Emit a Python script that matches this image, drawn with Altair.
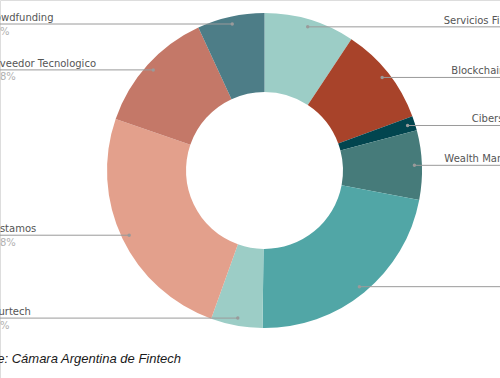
import altair as alt
import numpy as np
import pandas as pd

# ---- data ----
categories = ["Servicios Financieros", "Blockchain y Cripto", "Ciberseguridad",
              "Wealth Management", "Pagos", "Insurtech", "Préstamos",
              "Proveedor Tecnologico", "Crowdfunding"]
shares = [9.3, 10.1, 1.5, 7.1, 22.2, 5.3, 24.8, 12.8, 6.9]
colors = ["#9ccdc6", "#a8432a", "#02454f", "#467b7a", "#51a6a6",
          "#9ccdc6", "#e3a08c", "#c47868", "#4d7d87"]
source_text = "Fuente: Cámara Argentina de Fintech"

# ---- layout constants ----
W, H = 500, 378
CX, CY = 264.5, 170.5
R_IN, R_OUT, R_DOT = 78.5, 157.5, 150
LEFT_TEXT_X, RIGHT_TEXT_X = -16, 548
LEFT_LINE_X, RIGHT_LINE_X = -20, 560

s = np.array(shares, dtype=float)
cum = np.cumsum(s)
start = cum - s
mid = (start + s / 2) / s.sum() * 2 * np.pi
dot_x = CX + R_DOT * np.sin(mid)
dot_y = CY - R_DOT * np.cos(mid)
left = mid > np.pi

df = pd.DataFrame({
    "idx": np.arange(len(categories)),
    "cat": categories,
    "share": s,
    "pct": [f"{v:.1f}%" for v in s],
    "dx": dot_x,
    "dy": dot_y,
    "lx": np.where(left, LEFT_LINE_X, RIGHT_LINE_X),
    "tx": np.where(left, LEFT_TEXT_X, RIGHT_TEXT_X),
    "side": np.where(left, "L", "R"),
})

xs = alt.Scale(domain=[0, W], nice=False, zero=False)
ys = alt.Scale(domain=[0, H], nice=False, zero=False, reverse=True)
FONT = "DejaVu Sans"

base = alt.Chart(df)

arcs = base.mark_arc(innerRadius=R_IN, outerRadius=R_OUT).encode(
    theta=alt.Theta("share:Q", stack=True),
    order=alt.Order("idx:Q"),
    color=alt.Color("cat:N", scale=alt.Scale(domain=categories, range=colors), legend=None),
    x=alt.value(CX),
    y=alt.value(CY),
)

lines = base.mark_rule(color="#9a9a9a", strokeWidth=1).encode(
    x=alt.X("dx:Q", scale=xs, axis=None),
    x2="lx:Q",
    y=alt.Y("dy:Q", scale=ys, axis=None),
)

dots = base.mark_circle(color="#9a9a9a", size=12, opacity=1).encode(
    x=alt.X("dx:Q", scale=xs, axis=None),
    y=alt.Y("dy:Q", scale=ys, axis=None),
)

def labels(side, align):
    b = base.transform_filter(alt.datum.side == side)
    name = b.mark_text(align=align, baseline="alphabetic", dy=-3, font=FONT,
                       fontSize=10, color="#555555").encode(
        x=alt.X("tx:Q", scale=xs, axis=None),
        y=alt.Y("dy:Q", scale=ys, axis=None),
        text="cat:N",
    )
    pct = b.mark_text(align=align, baseline="alphabetic", dy=10.5, font=FONT,
                      fontSize=10, color="#b0b0b0").encode(
        x=alt.X("tx:Q", scale=xs, axis=None),
        y=alt.Y("dy:Q", scale=ys, axis=None),
        text="pct:N",
    )
    return name + pct

caption = alt.Chart(pd.DataFrame({"t": [source_text]})).mark_text(
    align="left", baseline="alphabetic", font="Liberation Sans", fontStyle="italic",
    fontSize=13, color="#1a1a1a",
).encode(x=alt.value(-36), y=alt.value(362.5), text="t:N")

chart = alt.layer(
    arcs, lines, dots, labels("L", "left"), labels("R", "right"), caption
).properties(
    width=W, height=H, padding=0, autosize=alt.AutoSizeParams(type="none"),
).configure_view(stroke=None).configure(background="white")

chart.save("out.html", embed_options={"renderer": "svg", "actions": False})
